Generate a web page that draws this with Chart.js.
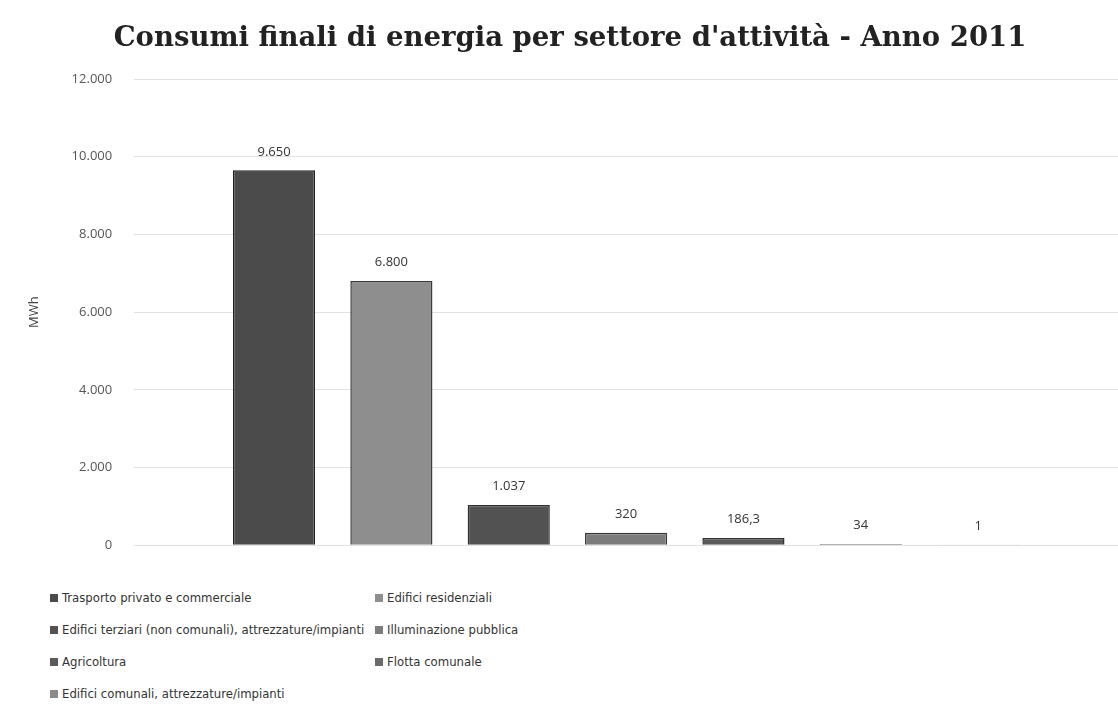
<!DOCTYPE html>
<html>
<head>
<meta charset="utf-8">
<script src="https://cdn.jsdelivr.net/npm/chart.js@4/dist/chart.umd.min.js"></script>
<style>
  body { margin: 0; background: #fff; }
  #wrap { position: relative; width: 1118px; height: 725px; }
  #box { position: absolute; left: 0; top: 0; width: 1118px; height: 575px; }
  #legend { position: absolute; left: 50px; top: 588px; width: 700px;
            font-family: "DejaVu Sans Condensed", "Open Sans", sans-serif; font-stretch: condensed;
            font-size: 13px; color: #333; }
  .item { position: absolute; white-space: nowrap; line-height: 20px; }
  .item span.sw { display: inline-block; width: 8px; height: 8px; margin-right: 4px; vertical-align: 0px; }
</style>
</head>
<body>
<div id="wrap">
  <div id="box"><canvas id="myBarChart"></canvas></div>
  <div id="legend"></div>
</div>
<script>
const sectors = ['Trasporto privato e commerciale', 'Edifici residenziali',
  'Edifici terziari (non comunali), attrezzature/impianti', 'Illuminazione pubblica',
  'Agricoltura', 'Flotta comunale', 'Edifici comunali, attrezzature/impianti'];
const values = [9650, 6800, 1037, 320, 186.3, 34, 1];
const valueLabels = ['9.650', '6.800', '1.037', '320', '186,3', '34', '1'];
const yTicks = ['0', '2.000', '4.000', '6.000', '8.000', '10.000', '12.000'];
const fills = ['#4b4b4b', '#8e8e8e', '#525252', '#7c7c7c', '#5a5a5a', '#6a6a6a', '#8a8a8a'];
const borders = ['#222222', '#3a3a3a', '#2e2e2e', '#3a3a3a', '#333333', '#555555', '#777777'];

// draw the value above each bar
const valueLabelPlugin = {
    id: 'valueLabels',
    afterDatasetsDraw(chart) {
        const ctx = chart.ctx;
        ctx.save();
        ctx.font = '13px "Open Sans", sans-serif';
        ctx.fillStyle = '#333';
        ctx.textAlign = 'center';
        ctx.textBaseline = 'bottom';
        chart.data.datasets.forEach((ds, i) => {
            const bar = chart.getDatasetMeta(i).data[0];
            ctx.fillText(valueLabels[i], bar.x, bar.y - 12);
        });
        ctx.restore();
    }
};

document.addEventListener('DOMContentLoaded', function() {
    const ctx = document.getElementById('myBarChart').getContext('2d');
    new Chart(ctx, {
        type: 'bar',
        data: {
            labels: [''],
            datasets: sectors.map((name, i) => ({
                label: name,
                data: [values[i]],
                backgroundColor: fills[i],
                borderColor: borders[i],
                borderWidth: 1.5,
                barPercentage: 0.7,
                categoryPercentage: 0.835
            }))
        },
        options: {
            responsive: true,
            maintainAspectRatio: false,
            animation: false,
            layout: { padding: { left: 22, right: 0, bottom: 8 } },
            plugins: {
                legend: { display: false },
                tooltip: { enabled: false },
                title: {
                    display: true,
                    text: "Consumi finali di energia per settore d'attività - Anno 2011",
                    color: '#222',
                    font: { family: '"DejaVu Serif", serif', size: 27.5, weight: 'bold' },
                    padding: { top: 22, bottom: 24 }
                }
            },
            scales: {
                x: { display: false },
                y: {
                    min: 0,
                    max: 12000,
                    border: { display: false },
                    grid: { color: '#e2e2e2', drawTicks: false },
                    ticks: {
                        stepSize: 2000,
                        padding: 22,
                        color: '#555',
                        font: { family: '"Open Sans", sans-serif', size: 13 },
                        callback: function(value) { return yTicks[value / 2000]; }
                    },
                    title: {
                        display: true,
                        text: 'MWh',
                        color: '#444',
                        font: { family: '"Open Sans", sans-serif', size: 13 },
                        padding: { bottom: 8 }
                    }
                }
            }
        },
        plugins: [valueLabelPlugin]
    });

    // two-column legend under the chart
    const legend = document.getElementById('legend');
    sectors.forEach((name, i) => {
        const div = document.createElement('div');
        div.className = 'item';
        div.style.left = (i % 2 ? 325 : 0) + 'px';
        div.style.top = (Math.floor(i / 2) * 32) + 'px';
        div.innerHTML = '<span class="sw" style="background:' + fills[i] + '"></span>' + name;
        legend.appendChild(div);
    });
});
</script>
</body>
</html>
